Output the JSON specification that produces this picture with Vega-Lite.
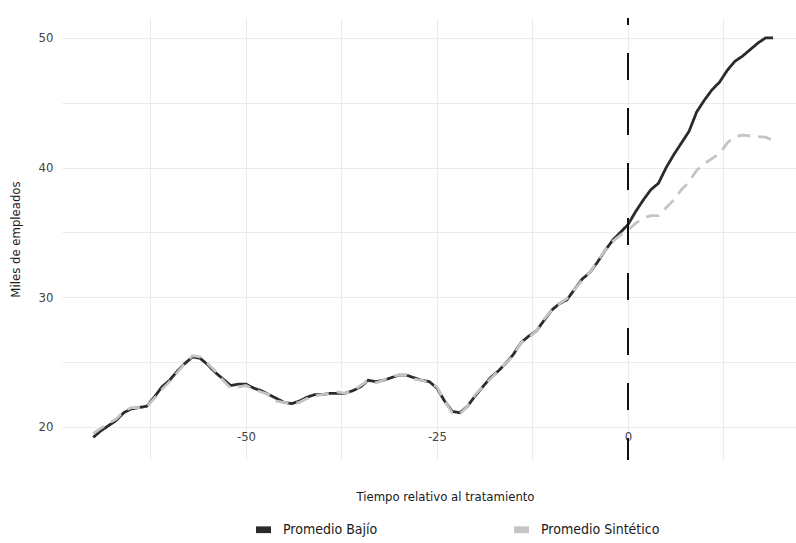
{
  "$schema": "https://vega.github.io/schema/vega-lite/v6.json",
  "width": 734,
  "height": 442,
  "autosize": {"type": "none"},
  "padding": {"left": 62, "top": 18, "right": 0, "bottom": 83},
  "background": "white",
  "config": {
    "font": "Liberation Sans Narrow, DejaVu Sans Condensed, sans-serif",
    "view": {"stroke": null},
    "axis": {
      "domain": false,
      "ticks": false,
      "tickSize": 0,
      "gridColor": "#ebebeb",
      "gridWidth": 1,
      "labelFont": "Liberation Sans Narrow, DejaVu Sans Condensed, sans-serif",
      "titleFont": "Liberation Sans Narrow, DejaVu Sans Condensed, sans-serif",
      "labelFontSize": 13,
      "labelColor": "#444444",
      "titleFontSize": 13,
      "titleFontWeight": "normal",
      "titleColor": "#1a1a1a"
    },
    "legend": {
      "labelFont": "Liberation Sans Narrow, DejaVu Sans Condensed, sans-serif",
      "labelFontSize": 14,
      "labelColor": "#1a1a1a"
    }
  },
  "data": {
    "values": [
      {"t": -70, "serie": "Promedio Bajío", "valor": 19.2}, {"t": -69, "serie": "Promedio Bajío", "valor": 19.7}, {"t": -68, "serie": "Promedio Bajío", "valor": 20.1}, {"t": -67, "serie": "Promedio Bajío", "valor": 20.5}, {"t": -66, "serie": "Promedio Bajío", "valor": 21.1}, {"t": -65, "serie": "Promedio Bajío", "valor": 21.4}, {"t": -64, "serie": "Promedio Bajío", "valor": 21.5}, {"t": -63, "serie": "Promedio Bajío", "valor": 21.6}, {"t": -62, "serie": "Promedio Bajío", "valor": 22.3}, {"t": -61, "serie": "Promedio Bajío", "valor": 23.1},
      {"t": -60, "serie": "Promedio Bajío", "valor": 23.6}, {"t": -59, "serie": "Promedio Bajío", "valor": 24.3}, {"t": -58, "serie": "Promedio Bajío", "valor": 24.9}, {"t": -57, "serie": "Promedio Bajío", "valor": 25.4}, {"t": -56, "serie": "Promedio Bajío", "valor": 25.3}, {"t": -55, "serie": "Promedio Bajío", "valor": 24.8}, {"t": -54, "serie": "Promedio Bajío", "valor": 24.2}, {"t": -53, "serie": "Promedio Bajío", "valor": 23.7}, {"t": -52, "serie": "Promedio Bajío", "valor": 23.2}, {"t": -51, "serie": "Promedio Bajío", "valor": 23.3},
      {"t": -50, "serie": "Promedio Bajío", "valor": 23.3}, {"t": -49, "serie": "Promedio Bajío", "valor": 23.0}, {"t": -48, "serie": "Promedio Bajío", "valor": 22.8}, {"t": -47, "serie": "Promedio Bajío", "valor": 22.5}, {"t": -46, "serie": "Promedio Bajío", "valor": 22.2}, {"t": -45, "serie": "Promedio Bajío", "valor": 21.9}, {"t": -44, "serie": "Promedio Bajío", "valor": 21.8}, {"t": -43, "serie": "Promedio Bajío", "valor": 22.0}, {"t": -42, "serie": "Promedio Bajío", "valor": 22.3}, {"t": -41, "serie": "Promedio Bajío", "valor": 22.5},
      {"t": -40, "serie": "Promedio Bajío", "valor": 22.5}, {"t": -39, "serie": "Promedio Bajío", "valor": 22.6}, {"t": -38, "serie": "Promedio Bajío", "valor": 22.6}, {"t": -37, "serie": "Promedio Bajío", "valor": 22.6}, {"t": -36, "serie": "Promedio Bajío", "valor": 22.8}, {"t": -35, "serie": "Promedio Bajío", "valor": 23.1}, {"t": -34, "serie": "Promedio Bajío", "valor": 23.6}, {"t": -33, "serie": "Promedio Bajío", "valor": 23.5}, {"t": -32, "serie": "Promedio Bajío", "valor": 23.6}, {"t": -31, "serie": "Promedio Bajío", "valor": 23.8},
      {"t": -30, "serie": "Promedio Bajío", "valor": 24.0}, {"t": -29, "serie": "Promedio Bajío", "valor": 24.0}, {"t": -28, "serie": "Promedio Bajío", "valor": 23.8}, {"t": -27, "serie": "Promedio Bajío", "valor": 23.6}, {"t": -26, "serie": "Promedio Bajío", "valor": 23.5}, {"t": -25, "serie": "Promedio Bajío", "valor": 23.0}, {"t": -24, "serie": "Promedio Bajío", "valor": 22.0}, {"t": -23, "serie": "Promedio Bajío", "valor": 21.2}, {"t": -22, "serie": "Promedio Bajío", "valor": 21.1}, {"t": -21, "serie": "Promedio Bajío", "valor": 21.6},
      {"t": -20, "serie": "Promedio Bajío", "valor": 22.4}, {"t": -19, "serie": "Promedio Bajío", "valor": 23.1}, {"t": -18, "serie": "Promedio Bajío", "valor": 23.8}, {"t": -17, "serie": "Promedio Bajío", "valor": 24.3}, {"t": -16, "serie": "Promedio Bajío", "valor": 24.9}, {"t": -15, "serie": "Promedio Bajío", "valor": 25.6}, {"t": -14, "serie": "Promedio Bajío", "valor": 26.5}, {"t": -13, "serie": "Promedio Bajío", "valor": 27.0}, {"t": -12, "serie": "Promedio Bajío", "valor": 27.4}, {"t": -11, "serie": "Promedio Bajío", "valor": 28.2},
      {"t": -10, "serie": "Promedio Bajío", "valor": 29.0}, {"t": -9, "serie": "Promedio Bajío", "valor": 29.5}, {"t": -8, "serie": "Promedio Bajío", "valor": 29.8}, {"t": -7, "serie": "Promedio Bajío", "valor": 30.6}, {"t": -6, "serie": "Promedio Bajío", "valor": 31.4}, {"t": -5, "serie": "Promedio Bajío", "valor": 31.9}, {"t": -4, "serie": "Promedio Bajío", "valor": 32.7}, {"t": -3, "serie": "Promedio Bajío", "valor": 33.6}, {"t": -2, "serie": "Promedio Bajío", "valor": 34.4}, {"t": -1, "serie": "Promedio Bajío", "valor": 35.0},
      {"t": 0, "serie": "Promedio Bajío", "valor": 35.6}, {"t": 1, "serie": "Promedio Bajío", "valor": 36.6}, {"t": 2, "serie": "Promedio Bajío", "valor": 37.5}, {"t": 3, "serie": "Promedio Bajío", "valor": 38.3}, {"t": 4, "serie": "Promedio Bajío", "valor": 38.8}, {"t": 5, "serie": "Promedio Bajío", "valor": 40.0}, {"t": 6, "serie": "Promedio Bajío", "valor": 41.0}, {"t": 7, "serie": "Promedio Bajío", "valor": 41.9}, {"t": 8, "serie": "Promedio Bajío", "valor": 42.8}, {"t": 9, "serie": "Promedio Bajío", "valor": 44.3},
      {"t": 10, "serie": "Promedio Bajío", "valor": 45.2}, {"t": 11, "serie": "Promedio Bajío", "valor": 46.0}, {"t": 12, "serie": "Promedio Bajío", "valor": 46.6}, {"t": 13, "serie": "Promedio Bajío", "valor": 47.5}, {"t": 14, "serie": "Promedio Bajío", "valor": 48.2}, {"t": 15, "serie": "Promedio Bajío", "valor": 48.6}, {"t": 16, "serie": "Promedio Bajío", "valor": 49.1}, {"t": 17, "serie": "Promedio Bajío", "valor": 49.6}, {"t": 18, "serie": "Promedio Bajío", "valor": 50.0}, {"t": 19, "serie": "Promedio Bajío", "valor": 50.0},
      {"t": -70, "serie": "Promedio Sintético", "valor": 19.5}, {"t": -69, "serie": "Promedio Sintético", "valor": 19.9}, {"t": -68, "serie": "Promedio Sintético", "valor": 20.3}, {"t": -67, "serie": "Promedio Sintético", "valor": 20.6}, {"t": -66, "serie": "Promedio Sintético", "valor": 21.2}, {"t": -65, "serie": "Promedio Sintético", "valor": 21.5}, {"t": -64, "serie": "Promedio Sintético", "valor": 21.5}, {"t": -63, "serie": "Promedio Sintético", "valor": 21.6}, {"t": -62, "serie": "Promedio Sintético", "valor": 22.2}, {"t": -61, "serie": "Promedio Sintético", "valor": 22.9},
      {"t": -60, "serie": "Promedio Sintético", "valor": 23.5}, {"t": -59, "serie": "Promedio Sintético", "valor": 24.2}, {"t": -58, "serie": "Promedio Sintético", "valor": 24.9}, {"t": -57, "serie": "Promedio Sintético", "valor": 25.5}, {"t": -56, "serie": "Promedio Sintético", "valor": 25.4}, {"t": -55, "serie": "Promedio Sintético", "valor": 24.9}, {"t": -54, "serie": "Promedio Sintético", "valor": 24.3}, {"t": -53, "serie": "Promedio Sintético", "valor": 23.6}, {"t": -52, "serie": "Promedio Sintético", "valor": 23.0}, {"t": -51, "serie": "Promedio Sintético", "valor": 23.1},
      {"t": -50, "serie": "Promedio Sintético", "valor": 23.2}, {"t": -49, "serie": "Promedio Sintético", "valor": 22.9}, {"t": -48, "serie": "Promedio Sintético", "valor": 22.7}, {"t": -47, "serie": "Promedio Sintético", "valor": 22.5}, {"t": -46, "serie": "Promedio Sintético", "valor": 22.0}, {"t": -45, "serie": "Promedio Sintético", "valor": 21.9}, {"t": -44, "serie": "Promedio Sintético", "valor": 21.8}, {"t": -43, "serie": "Promedio Sintético", "valor": 21.9}, {"t": -42, "serie": "Promedio Sintético", "valor": 22.2}, {"t": -41, "serie": "Promedio Sintético", "valor": 22.4},
      {"t": -40, "serie": "Promedio Sintético", "valor": 22.5}, {"t": -39, "serie": "Promedio Sintético", "valor": 22.6}, {"t": -38, "serie": "Promedio Sintético", "valor": 22.7}, {"t": -37, "serie": "Promedio Sintético", "valor": 22.6}, {"t": -36, "serie": "Promedio Sintético", "valor": 22.8}, {"t": -35, "serie": "Promedio Sintético", "valor": 23.2}, {"t": -34, "serie": "Promedio Sintético", "valor": 23.6}, {"t": -33, "serie": "Promedio Sintético", "valor": 23.4}, {"t": -32, "serie": "Promedio Sintético", "valor": 23.6}, {"t": -31, "serie": "Promedio Sintético", "valor": 23.9},
      {"t": -30, "serie": "Promedio Sintético", "valor": 24.0}, {"t": -29, "serie": "Promedio Sintético", "valor": 24.0}, {"t": -28, "serie": "Promedio Sintético", "valor": 23.7}, {"t": -27, "serie": "Promedio Sintético", "valor": 23.6}, {"t": -26, "serie": "Promedio Sintético", "valor": 23.4}, {"t": -25, "serie": "Promedio Sintético", "valor": 23.1}, {"t": -24, "serie": "Promedio Sintético", "valor": 22.0}, {"t": -23, "serie": "Promedio Sintético", "valor": 21.1}, {"t": -22, "serie": "Promedio Sintético", "valor": 21.0}, {"t": -21, "serie": "Promedio Sintético", "valor": 21.6},
      {"t": -20, "serie": "Promedio Sintético", "valor": 22.5}, {"t": -19, "serie": "Promedio Sintético", "valor": 23.1}, {"t": -18, "serie": "Promedio Sintético", "valor": 23.7}, {"t": -17, "serie": "Promedio Sintético", "valor": 24.3}, {"t": -16, "serie": "Promedio Sintético", "valor": 24.9}, {"t": -15, "serie": "Promedio Sintético", "valor": 25.5}, {"t": -14, "serie": "Promedio Sintético", "valor": 26.5}, {"t": -13, "serie": "Promedio Sintético", "valor": 26.9}, {"t": -12, "serie": "Promedio Sintético", "valor": 27.4}, {"t": -11, "serie": "Promedio Sintético", "valor": 28.3},
      {"t": -10, "serie": "Promedio Sintético", "valor": 29.0}, {"t": -9, "serie": "Promedio Sintético", "valor": 29.5}, {"t": -8, "serie": "Promedio Sintético", "valor": 29.9}, {"t": -7, "serie": "Promedio Sintético", "valor": 30.6}, {"t": -6, "serie": "Promedio Sintético", "valor": 31.3}, {"t": -5, "serie": "Promedio Sintético", "valor": 31.9}, {"t": -4, "serie": "Promedio Sintético", "valor": 32.8}, {"t": -3, "serie": "Promedio Sintético", "valor": 33.6}, {"t": -2, "serie": "Promedio Sintético", "valor": 34.3}, {"t": -1, "serie": "Promedio Sintético", "valor": 34.8},
      {"t": 0, "serie": "Promedio Sintético", "valor": 35.2}, {"t": 1, "serie": "Promedio Sintético", "valor": 35.7}, {"t": 2, "serie": "Promedio Sintético", "valor": 36.1}, {"t": 3, "serie": "Promedio Sintético", "valor": 36.3}, {"t": 4, "serie": "Promedio Sintético", "valor": 36.3}, {"t": 5, "serie": "Promedio Sintético", "valor": 36.9}, {"t": 6, "serie": "Promedio Sintético", "valor": 37.5}, {"t": 7, "serie": "Promedio Sintético", "valor": 38.3}, {"t": 8, "serie": "Promedio Sintético", "valor": 38.9}, {"t": 9, "serie": "Promedio Sintético", "valor": 39.8},
      {"t": 10, "serie": "Promedio Sintético", "valor": 40.3}, {"t": 11, "serie": "Promedio Sintético", "valor": 40.7}, {"t": 12, "serie": "Promedio Sintético", "valor": 41.1}, {"t": 13, "serie": "Promedio Sintético", "valor": 41.9}, {"t": 14, "serie": "Promedio Sintético", "valor": 42.4}, {"t": 15, "serie": "Promedio Sintético", "valor": 42.5}, {"t": 16, "serie": "Promedio Sintético", "valor": 42.45}, {"t": 17, "serie": "Promedio Sintético", "valor": 42.4}, {"t": 18, "serie": "Promedio Sintético", "valor": 42.35}, {"t": 19, "serie": "Promedio Sintético", "valor": 42.1}
    ]
  },
  "layer": [
    {
      "mark": {"type": "line", "strokeWidth": 2.8, "clip": true},
      "encoding": {
        "x": {
          "field": "t",
          "type": "quantitative",
          "scale": {"domain": [-74.08, 22], "nice": false, "zero": false},
          "axis": {
            "title": "Tiempo relativo al tratamiento",
            "values": [-62.5, -50, -37.5, -25, -12.5, 0, 12.5],
            "labelExpr": "datum.value % 25 === 0 ? '' + datum.value : ''",
            "labelPadding": -30,
            "titleX": 383,
            "titleY": 36,
            "titleAlign": "center",
            "titleBaseline": "middle"
          }
        },
        "y": {
          "field": "valor",
          "type": "quantitative",
          "scale": {"domain": [17.455, 51.54], "nice": false, "zero": false},
          "axis": {
            "title": "Miles de empleados",
            "values": [20, 25, 30, 35, 40, 45, 50],
            "labelExpr": "datum.value % 10 === 0 ? '' + datum.value : ''",
            "labelPadding": 9,
            "titleX": -47,
            "titleY": 221,
            "titleAlign": "center",
            "titleBaseline": "middle",
            "titleAngle": 270
          }
        },
        "color": {
          "field": "serie",
          "type": "nominal",
          "scale": {"domain": ["Promedio Bajío", "Promedio Sintético"], "range": ["#2b2b2b", "#c4c4c4"]},
          "legend": {
            "title": null,
            "orient": "none",
            "direction": "horizontal",
            "legendX": 194,
            "legendY": 504,
            "columnPadding": 136,
            "labelOffset": 12,
            "symbolType": "M-1,-0.45H1V0.45H-1Z",
            "symbolSize": 225,
            "symbolStrokeWidth": 0,
            "encode": {
              "symbols": {"update": {"fill": {"scale": "color", "field": "value"}, "fillOpacity": {"value": 1}, "strokeWidth": {"value": 0}}}
            }
          }
        },
        "strokeDash": {
          "field": "serie",
          "type": "nominal",
          "scale": {"domain": ["Promedio Bajío", "Promedio Sintético"], "range": [[1, 0], [13, 8]]},
          "legend": null
        }
      }
    },
    {
      "mark": {"type": "rule", "color": "#111111", "strokeWidth": 1.2, "strokeDash": [27, 28], "strokeDashOffset": 20},
      "encoding": {"x": {"datum": 0}}
    }
  ]
}
